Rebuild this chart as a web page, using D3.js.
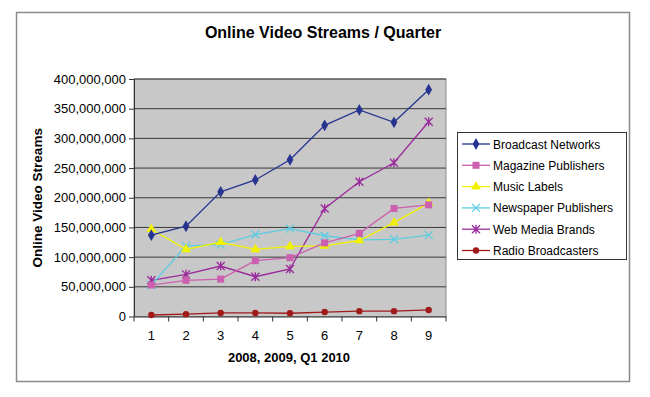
<!DOCTYPE html>
<html>
<head>
<meta charset="utf-8">
<script src="https://cdn.jsdelivr.net/npm/d3@7"></script>
<style>
  body { margin: 0; background: #fff; }
  text { font-family: Arial, "Liberation Sans", sans-serif; }
</style>
</head>
<body>
<div id="chart"></div>
<script>
// Quarter numbers on the x axis
const quarters = [1, 2, 3, 4, 5, 6, 7, 8, 9];

// Streams per quarter
const broadcastNetworks   = [137e6, 152e6, 210e6, 230e6, 264e6, 322e6, 348e6, 327e6, 382e6];
const magazinePublishers  = [53e6, 61e6, 63e6, 94e6, 99e6, 124e6, 140e6, 182e6, 188e6];
const musicLabels         = [147e6, 113e6, 125e6, 113e6, 118e6, 119e6, 128e6, 158e6, 191e6];
const newspaperPublishers = [53e6, 119e6, 121e6, 138e6, 148e6, 136e6, 129e6, 130e6, 137e6];
const webMediaBrands      = [61e6, 71e6, 85e6, 67e6, 80e6, 182e6, 227e6, 259e6, 328e6];
const radioBroadcasters   = [2.5e6, 4e6, 6e6, 6e6, 5.5e6, 7.5e6, 9e6, 9e6, 11e6];

const yTicks = [0, 50e6, 100e6, 150e6, 200e6, 250e6, 300e6, 350e6, 400e6];

const series = [
  {name: "Broadcast Networks",   values: broadcastNetworks,   color: "#27348f", marker: "diamond"},
  {name: "Magazine Publishers",  values: magazinePublishers,  color: "#cc5fae", marker: "square"},
  {name: "Music Labels",         values: musicLabels,         color: "#f2f200", marker: "triangle"},
  {name: "Newspaper Publishers", values: newspaperPublishers, color: "#5ccde0", marker: "x"},
  {name: "Web Media Brands",     values: webMediaBrands,      color: "#9a2a9c", marker: "star"},
  {name: "Radio Broadcasters",   values: radioBroadcasters,   color: "#a01a1a", marker: "circle"}
];

const W = 650, H = 397;
const plot = {left: 134, right: 446, top: 79, bottom: 316.5};

const svg = d3.select("#chart").append("svg")
  .attr("width", W).attr("height", H);

// Outer chart border
svg.append("rect")
  .attr("x", 16.5).attr("y", 12.5).attr("width", 613).attr("height", 369)
  .attr("fill", "#fff").attr("stroke", "#8a8a8a").attr("stroke-width", 1.5);

// Scales
const x = d3.scaleBand()
  .domain(quarters)
  .range([plot.left, plot.right]);
const y = d3.scaleLinear()
  .domain([0, 400e6])
  .range([plot.bottom, plot.top]);

// Plot area
svg.append("rect")
  .attr("x", plot.left).attr("y", plot.top)
  .attr("width", plot.right - plot.left).attr("height", plot.bottom - plot.top)
  .attr("fill", "#c8c8c8").attr("stroke", "#8c8c8c").attr("stroke-width", 1);

// Gridlines
svg.append("g")
  .selectAll("line")
  .data(yTicks.filter(d => d > 0))
  .join("line")
  .attr("x1", plot.left).attr("x2", plot.right)
  .attr("y1", d => y(d)).attr("y2", d => y(d))
  .attr("stroke", "#3a3a3a").attr("stroke-width", 1);

// Y axis
const yAxis = svg.append("g")
  .attr("transform", `translate(${plot.left},0)`)
  .call(d3.axisLeft(y).tickValues(yTicks).tickSize(5).tickSizeOuter(0)
    .tickFormat(d3.format(",")));
yAxis.select(".domain").attr("stroke", "#333");
yAxis.selectAll(".tick line").attr("stroke", "#333");
yAxis.selectAll(".tick text")
  .attr("x", -8).attr("fill", "#000")
  .style("font-size", "13px").style("font-family", "Arial, 'Liberation Sans', sans-serif");

// X axis
const xAxis = svg.append("g")
  .attr("transform", `translate(0,${plot.bottom})`)
  .call(d3.axisBottom(x).tickSize(0).tickSizeOuter(0));
xAxis.select(".domain").attr("stroke", "#333");
xAxis.selectAll(".tick text")
  .attr("y", 14).attr("fill", "#000")
  .style("font-size", "13px").style("font-family", "Arial, 'Liberation Sans', sans-serif");
// tick marks between categories
xAxis.selectAll("line.sep")
  .data(quarters.concat([10]))
  .join("line")
  .attr("class", "sep")
  .attr("x1", d => d <= 9 ? x(d) : x(9) + x.bandwidth())
  .attr("x2", d => d <= 9 ? x(d) : x(9) + x.bandwidth())
  .attr("y1", 0).attr("y2", 5)
  .attr("stroke", "#333");

// Titles
svg.append("text")
  .attr("x", 323).attr("y", 38)
  .attr("text-anchor", "middle")
  .style("font-size", "16px").style("font-weight", "bold")
  .text("Online Video Streams / Quarter");

svg.append("text")
  .attr("transform", `translate(42,${(plot.top + plot.bottom) / 2}) rotate(-90)`)
  .attr("text-anchor", "middle")
  .style("font-size", "13.5px").style("font-weight", "bold")
  .text("Online Video Streams");

svg.append("text")
  .attr("x", (plot.left + plot.right) / 2 - 1).attr("y", 362)
  .attr("text-anchor", "middle")
  .style("font-size", "13px").style("font-weight", "bold")
  .text("2008, 2009, Q1 2010");

// Marker drawing
function drawMarker(g, type, color) {
  if (type === "diamond") {
    g.append("path").attr("d", d3.symbol(d3.symbolDiamond, 40)()).attr("fill", color);
  } else if (type === "square") {
    g.append("rect").attr("x", -3.5).attr("y", -3.5).attr("width", 7).attr("height", 7).attr("fill", color);
  } else if (type === "triangle") {
    g.append("path").attr("d", d3.symbol(d3.symbolTriangle, 42)()).attr("fill", color);
  } else if (type === "x") {
    g.append("path").attr("d", "M-4,-4L4,4M-4,4L4,-4")
      .attr("stroke", color).attr("stroke-width", 1.3).attr("fill", "none");
  } else if (type === "star") {
    g.append("path").attr("d", "M-4,-4L4,4M-4,4L4,-4M0,-4.5L0,4.5")
      .attr("stroke", color).attr("stroke-width", 1.3).attr("fill", "none");
  } else if (type === "circle") {
    g.append("circle").attr("r", 3.2).attr("fill", color);
  }
}

const cx = q => x(q) + x.bandwidth() / 2;
const line = d3.line()
  .x((d, i) => cx(quarters[i]))
  .y(d => y(d));

// Series lines and markers (draw last series first so Broadcast sits on top)
series.slice().reverse().forEach(s => {
  svg.append("path")
    .datum(s.values)
    .attr("fill", "none")
    .attr("stroke", s.color)
    .attr("stroke-width", 1.3)
    .attr("d", line);
  svg.append("g")
    .selectAll("g")
    .data(s.values)
    .join("g")
    .attr("transform", (d, i) => `translate(${cx(quarters[i])},${y(d)})`)
    .each(function() { drawMarker(d3.select(this), s.marker, s.color); });
});

// Legend
const legend = svg.append("g");
legend.append("rect")
  .attr("x", 457.5).attr("y", 132.5).attr("width", 169).attr("height", 127)
  .attr("fill", "#fff").attr("stroke", "#333").attr("stroke-width", 1);

series.forEach((s, i) => {
  const ly = 144 + i * 21.3;
  const g = legend.append("g");
  g.append("line")
    .attr("x1", 462).attr("x2", 490).attr("y1", ly).attr("y2", ly)
    .attr("stroke", s.color).attr("stroke-width", 1.3);
  const m = g.append("g").attr("transform", `translate(476,${ly})`);
  drawMarker(m, s.marker, s.color);
  g.append("text")
    .attr("x", 493).attr("y", ly + 4.5)
    .style("font-size", "12px")
    .text(s.name);
});
</script>
</body>
</html>
